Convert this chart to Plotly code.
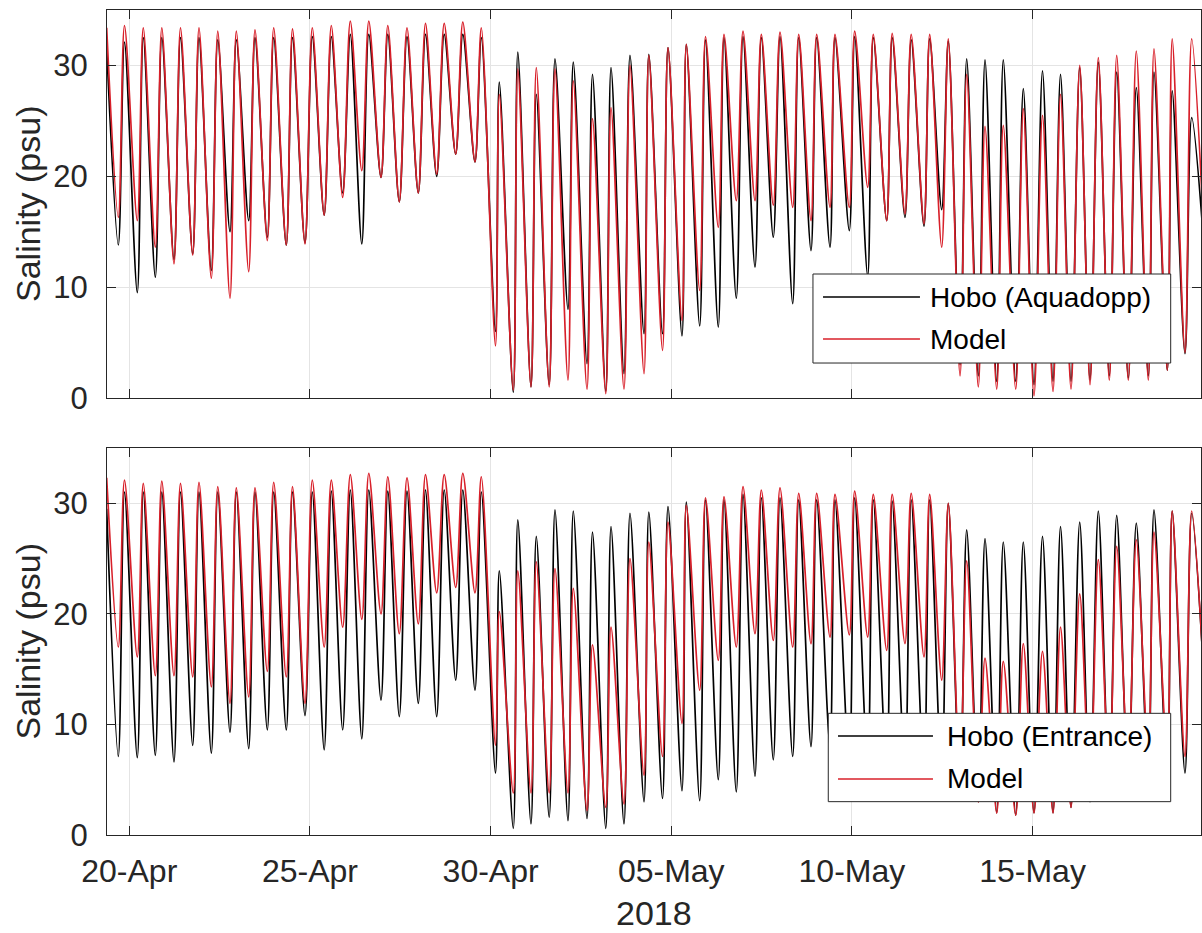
import pandas as pd
import plotly.graph_objects as go

# Turning points of the tidal salinity signal.
# Times are days after 2018-04-19 00:00; each low follows the high with the same index.
t_high = [0.374, 0.867, 1.387, 1.900, 2.417, 2.929, 3.449, 3.962, 4.479, 4.997,
          5.517, 6.065, 6.591, 7.117, 7.629, 8.155, 8.686, 9.198, 9.716, 10.231,
          10.743, 11.241, 11.753, 12.265, 12.782, 13.289, 13.820, 14.333, 14.858, 15.379,
          15.910, 16.417, 16.948, 17.460, 17.986, 18.493, 19.010, 19.528, 20.025, 20.532,
          21.077, 21.592, 22.115, 22.641, 23.153, 23.668, 24.177, 24.684, 25.190, 25.744,
          26.275, 26.774, 27.305, 27.820, 28.329, 28.871, 29.361, 29.865, 30.405]
t_low = [0.696, 1.221, 1.720, 2.237, 2.755, 3.270, 3.787, 4.305, 4.820, 5.345,
         5.863, 6.394, 6.906, 7.435, 7.967, 8.473, 8.999, 9.508, 10.034, 10.568,
         11.135, 11.628, 12.118, 12.622, 13.142, 13.668, 14.188, 14.692, 15.246, 15.758,
         16.297, 16.787, 17.302, 17.800, 18.318, 18.824, 19.361, 19.868, 20.394, 20.928,
         21.437, 21.963, 22.469, 22.995, 23.485, 23.993, 24.498, 25.008, 25.534, 26.040,
         26.566, 27.064, 27.590, 28.124, 28.650, 29.204, 29.729, 30.219, 30.780]

# Aquadopp site: Hobo logger
aqua_obs_high = [31.6, 32.1, 32.5, 32.5, 32.5, 32.5, 32.3, 32.3, 32.5, 32.5,
                 32.5, 32.6, 32.6, 32.8, 32.8, 32.8, 32.6, 32.8, 32.8, 32.8,
                 32.5, 28.5, 31.2, 27.4, 30.6, 30.3, 29.2, 29.8, 30.9, 31.0,
                 31.6, 31.9, 32.3, 32.5, 32.6, 32.5, 32.6, 32.5, 32.5, 32.5,
                 32.6, 32.5, 32.5, 32.3, 32.4, 32.2, 30.6, 30.5, 30.5, 27.9,
                 29.5, 29.2, 29.8, 30.3, 29.4, 28.0, 29.4, 27.7, 25.3]
aqua_obs_low = [13.8, 9.5, 10.9, 12.5, 13.0, 11.5, 15.0, 16.0, 14.5, 13.8,
                14.0, 16.5, 18.5, 13.9, 19.9, 17.7, 18.5, 20.0, 22.0, 21.3,
                6.0, 0.5, 1.0, 1.2, 8.0, 3.1, 0.6, 2.2, 5.8, 5.8,
                5.6, 6.5, 6.4, 9.0, 11.8, 14.5, 8.5, 13.3, 13.6, 15.1,
                11.0, 16.0, 16.3, 15.5, 17.0, 3.0, 2.0, 1.5, 1.5, 1.2,
                1.5, 1.5, 1.6, 2.0, 1.8, 2.0, 2.5, 4.0, 12.0]

# Aquadopp site: model
aqua_mod_high = [33.4, 33.6, 33.4, 33.4, 33.4, 33.4, 33.1, 33.1, 33.2, 33.4,
                 33.3, 33.4, 33.6, 34.0, 34.0, 33.6, 33.4, 33.8, 33.8, 33.9,
                 33.4, 27.4, 29.7, 29.8, 29.7, 28.6, 25.2, 26.2, 30.0, 30.9,
                 31.6, 31.9, 32.6, 32.8, 33.1, 32.8, 33.0, 32.8, 32.8, 32.8,
                 33.1, 32.8, 32.9, 32.8, 32.8, 32.4, 29.2, 24.5, 24.6, 26.1,
                 25.5, 27.4, 30.0, 30.7, 30.9, 31.3, 31.5, 32.4, 32.4]
aqua_mod_low = [16.3, 16.0, 13.6, 12.1, 12.9, 10.8, 9.0, 11.4, 14.2, 13.8,
                13.9, 16.5, 18.1, 20.5, 19.9, 17.7, 18.5, 20.2, 22.0, 21.3,
                4.7, 0.7, 1.0, 1.0, 1.6, 0.8, 0.4, 0.8, 2.2, 4.3,
                7.0, 9.7, 15.4, 17.8, 17.8, 17.4, 17.2, 16.0, 17.2, 17.2,
                19.0, 16.0, 16.6, 15.7, 13.6, 2.0, 1.0, 0.8, 0.8, 0.2,
                0.6, 0.8, 1.2, 1.6, 1.6, 1.6, 2.5, 4.1, 12.0]

# Entrance site: Hobo logger
ent_obs_high = [29.5, 31.0, 31.0, 31.0, 31.0, 31.0, 31.0, 31.0, 31.0, 31.0,
                31.0, 31.0, 31.1, 31.2, 31.2, 31.1, 31.1, 31.2, 31.2, 31.2,
                31.0, 23.9, 28.5, 27.0, 29.4, 29.3, 27.4, 27.9, 29.1, 29.2,
                29.7, 30.1, 30.3, 30.3, 30.8, 30.5, 30.5, 30.3, 30.3, 30.3,
                30.5, 30.3, 30.2, 30.3, 30.3, 30.0, 27.6, 26.8, 26.5, 26.5,
                27.0, 27.9, 28.3, 29.3, 28.9, 28.2, 29.4, 29.3, 29.1]
ent_obs_low = [7.1, 7.0, 7.2, 6.6, 8.1, 7.4, 9.3, 7.8, 9.5, 9.5,
               10.8, 7.7, 9.5, 8.7, 12.2, 10.7, 11.9, 10.7, 14.0, 13.1,
               5.6, 0.6, 1.0, 1.6, 1.3, 1.5, 0.6, 1.0, 3.0, 3.3,
               4.0, 3.1, 5.0, 3.9, 5.3, 6.8, 7.1, 8.0, 8.0, 6.0,
               6.0, 5.5, 5.5, 5.0, 5.0, 4.0, 3.0, 2.0, 1.8, 2.0,
               2.0, 2.5, 3.0, 4.0, 4.5, 5.0, 5.0, 5.6, 12.0]

# Entrance site: model
ent_mod_high = [32.3, 32.1, 31.8, 32.0, 31.8, 31.9, 31.5, 31.4, 31.4, 31.9,
                31.5, 32.1, 32.1, 32.6, 32.7, 32.4, 32.3, 32.6, 32.6, 32.7,
                32.4, 20.2, 23.9, 24.7, 24.1, 22.3, 17.2, 18.8, 25.0, 26.5,
                28.3, 29.8, 30.5, 30.6, 31.5, 31.2, 31.4, 30.9, 30.9, 30.8,
                31.1, 30.8, 30.8, 30.9, 30.8, 30.0, 24.8, 16.0, 15.7, 17.3,
                16.6, 18.8, 21.8, 24.9, 26.1, 26.7, 27.4, 29.3, 29.3]
ent_mod_low = [17.0, 16.1, 14.4, 14.4, 14.3, 13.4, 11.9, 12.5, 14.8, 14.3,
               11.9, 17.0, 18.8, 19.5, 20.0, 18.2, 19.1, 21.9, 22.4, 21.9,
               8.1, 3.8, 3.8, 3.8, 3.8, 2.2, 2.5, 2.8, 5.4, 7.1,
               10.1, 13.1, 15.8, 17.0, 18.2, 17.6, 17.0, 17.3, 17.9, 18.1,
               17.9, 16.7, 17.3, 16.1, 14.0, 5.0, 3.0, 2.0, 1.8, 2.0,
               2.0, 2.5, 4.0, 5.0, 6.0, 7.0, 7.0, 7.1, 12.0]

tick_dates = ["2018-04-20", "2018-04-25", "2018-04-30", "2018-05-05", "2018-05-10", "2018-05-15"]
tick_labels = ["20-Apr", "25-Apr", "30-Apr", "05-May", "10-May", "15-May"]
y_ticks = [0, 10, 20, 30]

BASE = pd.Timestamp("2018-04-19")
FONT = "Liberation Sans, Arial, Helvetica, sans-serif"
AXIS_COL = "#262626"
GRID_COL = "#e4e4e4"
OBS_COL = "#000000"
MOD_COL = "#d8202a"
LINE_W = 1.7


def interleave(a, b):
    out = []
    for p, q in zip(a, b):
        out.extend([p, q])
    return out


times = BASE + pd.to_timedelta(interleave(t_high, t_low), unit="D")

fig = go.Figure()
panels = [
    ("x", "y", aqua_obs_high, aqua_obs_low, aqua_mod_high, aqua_mod_low),
    ("x2", "y2", ent_obs_high, ent_obs_low, ent_mod_high, ent_mod_low),
]
for xa, ya, oh, ol, mh, ml in panels:
    fig.add_trace(go.Scatter(x=times, y=interleave(oh, ol), mode="lines", xaxis=xa, yaxis=ya,
                             line=dict(color=OBS_COL, width=LINE_W, shape="spline", smoothing=0.9),
                             showlegend=False, hoverinfo="skip"))
    fig.add_trace(go.Scatter(x=times, y=interleave(mh, ml), mode="lines", xaxis=xa, yaxis=ya,
                             line=dict(color=MOD_COL, width=LINE_W, shape="spline", smoothing=0.9),
                             showlegend=False, hoverinfo="skip"))

x_range = [BASE + pd.Timedelta(days=0.383), BASE + pd.Timedelta(days=30.662)]
tick_vals = [pd.Timestamp(d) for d in tick_dates]

common_x = dict(type="date", range=x_range, tickvals=tick_vals, ticktext=tick_labels,
                ticks="inside", ticklen=9, tickcolor=AXIS_COL, showline=True, linecolor=AXIS_COL,
                linewidth=1, mirror="allticks", showgrid=True, gridcolor=GRID_COL, gridwidth=1,
                zeroline=False, ticklabelstandoff=8,
                tickfont=dict(family=FONT, size=32, color=AXIS_COL))
common_y = dict(range=[0, 35], tickvals=y_ticks, ticks="inside", ticklen=9, tickcolor=AXIS_COL,
                showline=True, linecolor=AXIS_COL, linewidth=1, mirror="allticks",
                showgrid=True, gridcolor=GRID_COL, gridwidth=1, zeroline=False,
                ticklabelstandoff=12, tickfont=dict(family=FONT, size=31, color=AXIS_COL))

fig.update_layout(
    width=1202, height=933,
    margin=dict(l=107, r=1, t=10, b=98),
    paper_bgcolor="white", plot_bgcolor="white",
    showlegend=False,
    xaxis=dict(common_x, anchor="y", domain=[0, 1], showticklabels=False),
    yaxis=dict(common_y, anchor="x", domain=[0.5297, 1.0]),
    xaxis2=dict(common_x, anchor="y2", domain=[0, 1], showticklabels=True),
    yaxis2=dict(common_y, anchor="x2", domain=[0.0, 0.4691]),
)

# Axis titles
for yc in [(1.0 + 0.5297) / 2, 0.4691 / 2]:
    fig.add_annotation(text="Salinity (psu)", xref="paper", yref="paper", x=-0.0722, y=yc,
                       textangle=-90, showarrow=False, xanchor="center", yanchor="middle",
                       font=dict(family=FONT, size=34, color=AXIS_COL))
fig.add_annotation(text="2018", xref="paper", yref="paper", x=0.5, y=-0.0945,
                   showarrow=False, xanchor="center", yanchor="middle",
                   font=dict(family=FONT, size=34, color=AXIS_COL))

# Legend boxes drawn in paper coordinates
legends = [
    dict(box=(0.6453, 0.5721, 0.9723, 0.6800), line=(0.6545, 0.7431), text_x=0.7505,
         rows=(0.6521, 0.6012), labels=("Hobo (Aquadopp)", "Model")),
    dict(box=(0.6593, 0.0404, 0.9723, 0.1475), line=(0.6682, 0.7550), text_x=0.7660,
         rows=(0.1200, 0.0679), labels=("Hobo (Entrance)", "Model")),
]
for lg in legends:
    x0, y0, x1, y1 = lg["box"]
    fig.add_shape(type="rect", xref="paper", yref="paper", x0=x0, y0=y0, x1=x1, y1=y1,
                  fillcolor="white", line=dict(color=AXIS_COL, width=1), layer="above")
    for row_y, label, col in zip(lg["rows"], lg["labels"], (OBS_COL, MOD_COL)):
        fig.add_shape(type="line", xref="paper", yref="paper", x0=lg["line"][0], x1=lg["line"][1],
                      y0=row_y, y1=row_y, line=dict(color=col, width=LINE_W), layer="above")
        fig.add_annotation(text=label, xref="paper", yref="paper", x=lg["text_x"], y=row_y,
                           showarrow=False, xanchor="left", yanchor="middle",
                           font=dict(family=FONT, size=28, color="#000000"))

fig.write_html("out.html")
